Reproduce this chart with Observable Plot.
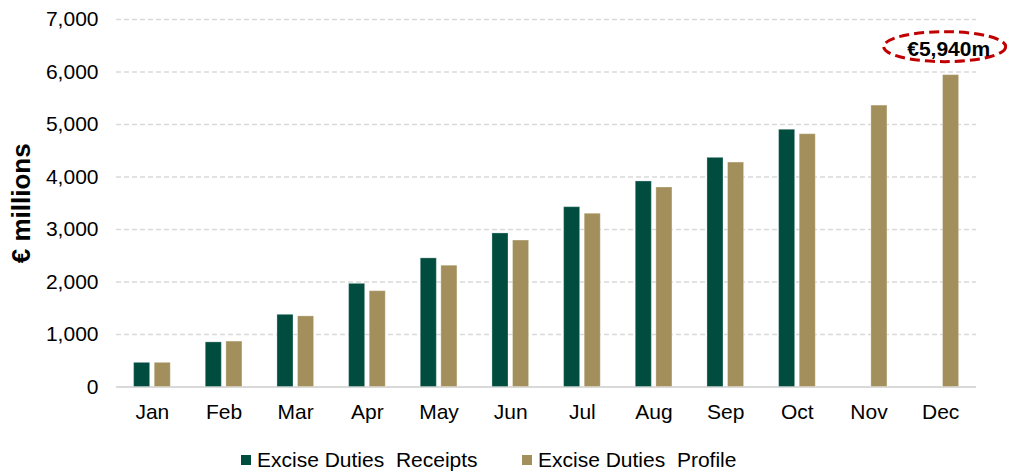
<!DOCTYPE html>
<html>
<head>
<meta charset="utf-8">
<script src="https://cdn.jsdelivr.net/npm/d3@7"></script>
<script src="https://cdn.jsdelivr.net/npm/@observablehq/plot@0.6"></script>
<style>
  body { margin: 0; background: #fff; font-family: 'Liberation Sans', Arial, sans-serif; }
  #chart { position: relative; width: 1010px; }
  #legend { position: relative; width: 1010px; height: 42px; font-size: 21px; color: #000; }
  .item { position: absolute; top: 17px; display: flex; align-items: center; white-space: pre; line-height: 22px; }
  .sw { width: 10px; height: 10px; margin-right: 6px; display: inline-block; }
</style>
</head>
<body>
<div id="chart"></div>
<div id="legend"></div>
<script>
// ---- data ----
const months = ["Jan","Feb","Mar","Apr","May","Jun","Jul","Aug","Sep","Oct","Nov","Dec"];
const receipts = [460, 850, 1375, 1965, 2450, 2925, 3425, 3915, 4365, 4900, null, null];
const profile  = [460, 865, 1345, 1825, 2310, 2790, 3300, 3800, 4275, 4815, 5360, 5940];
const yTicks = [0, 1000, 2000, 3000, 4000, 5000, 6000, 7000];
const seriesNames = ["Excise Duties  Receipts", "Excise Duties  Profile"];
const seriesColors = ["#004D40", "#A38F5B"];
const annotation = [{month: "Dec", value: 5940, label: "€5,940m"}];
const yTitle = "€ millions";

const receiptsData = months.map((m, i) => ({month: m, value: receipts[i]})).filter(d => d.value != null);
const profileData = months.map((m, i) => ({month: m, value: profile[i]}));

function ellipseMark(...args) {
  const scales = (args[1] && typeof args[1].x === "function") ? args[1] : args[0];
  const g = d3.create("svg:g");
  for (const d of annotation) {
    const cx = scales.x(d.month) + scales.x.bandwidth() / 2 + 4.5;
    const cy = scales.y(d.value) - 28;
    g.append("ellipse")
      .attr("cx", cx).attr("cy", cy)
      .attr("rx", 61).attr("ry", 15)
      .attr("fill", "none")
      .attr("stroke", "#C00000")
      .attr("stroke-width", 3)
      .attr("stroke-dasharray", "10,5");
  }
  return g.node();
}

const chart = Plot.plot({
  width: 1010,
  height: 432,
  marginLeft: 116,
  marginRight: 34,
  marginTop: 19,
  marginBottom: 45.5,
  style: {fontFamily: "'Liberation Sans', Arial, sans-serif", fontSize: "21px", color: "#000", background: "white", overflow: "visible"},
  x: {type: "band", domain: months, padding: 0, round: false, label: null, tickSize: 0, tickPadding: 17},
  y: {domain: [0, 7000], ticks: yTicks, tickFormat: d3.format(","), label: null, tickSize: 0, tickPadding: 18},
  marks: [
    Plot.ruleY(yTicks.filter(t => t > 0), {stroke: "#D9D9D9", strokeWidth: 1.5, strokeDasharray: "5,3"}),
    Plot.ruleY([0], {stroke: "#D9D9D9", strokeWidth: 2}),
    Plot.barY(receiptsData, {x: "month", y: "value", fill: seriesColors[0], insetLeft: 17.6, insetRight: 38, stroke: "#ffffff", strokeOpacity: 0.3, strokeWidth: 1}),
    Plot.barY(profileData, {x: "month", y: "value", fill: seriesColors[1], insetLeft: 38.2, insetRight: 17.4, stroke: "#ffffff", strokeOpacity: 0.3, strokeWidth: 1}),
    Plot.text([yTitle], {text: d => d, frameAnchor: "left", textAnchor: "middle", rotate: -90, dx: -95, fontWeight: "bold", fontSize: 26, fill: "#000"}),
    ellipseMark,
    Plot.text(annotation, {x: "month", y: "value", text: "label", dx: 8, dy: -26, fontWeight: "bold", fontSize: 21, fill: "#000"})
  ]
});
document.getElementById("chart").appendChild(chart);

// ---- legend ----
const legend = document.getElementById("legend");
const legendLefts = [241, 522];
seriesNames.forEach((name, i) => {
  const item = document.createElement("div");
  item.className = "item";
  item.style.left = legendLefts[i] + "px";
  const sw = document.createElement("span");
  sw.className = "sw";
  sw.style.background = seriesColors[i];
  const t = document.createElement("span");
  t.textContent = name;
  item.appendChild(sw);
  item.appendChild(t);
  legend.appendChild(item);
});
</script>
</body>
</html>
